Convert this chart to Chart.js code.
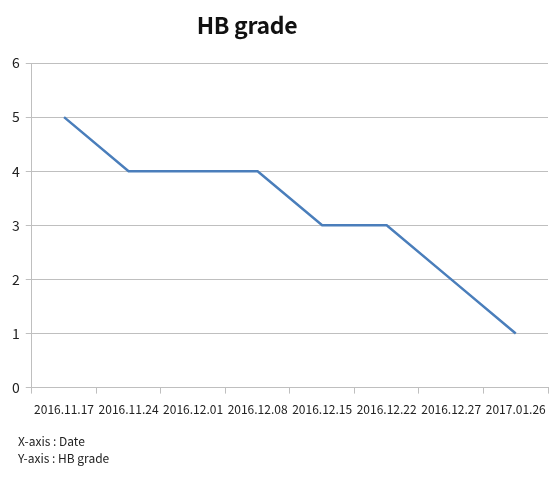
<!DOCTYPE html>
<html>
<head>
<meta charset="utf-8">
<script src="https://cdn.jsdelivr.net/npm/chart.js@4/dist/chart.umd.min.js"></script>
<style>
  body { margin: 0; background: #fff; font-family: "Noto Sans CJK KR", "Noto Sans", sans-serif; }
  #wrap { position: relative; width: 550px; height: 478px; }
  #title { position: absolute; left: 0; width: 494px; top: 7px; text-align: center; font-size: 23px; font-weight: bold; color: #111; letter-spacing: -0.3px; }
  #notes { position: absolute; left: 18px; top: 432px; font-size: 12px; line-height: 17px; color: #222; }
</style>
</head>
<body>
<div id="wrap">
  <div id="title">HB grade</div>
  <canvas id="myChart-Line" width="550" height="478"></canvas>
  <div id="notes">X-axis : Date<br>Y-axis : HB grade</div>
</div>
<script>
const dates = ['2016.11.17', '2016.11.24', '2016.12.01', '2016.12.08', '2016.12.15', '2016.12.22', '2016.12.27', '2017.01.26'];
const hbGrade = [5, 4, 4, 4, 3, 3, 2, 1];
const yTicks = [0, 1, 2, 3, 4, 5, 6];

const ctx = document.getElementById('myChart-Line');
new Chart(ctx, {
  type: 'line',
  data: {
    labels: dates,
    datasets: [
      {
        label: 'HB grade',
        data: hbGrade,
        fill: false,
        borderColor: '#4a7ebb',
        borderWidth: 2.5,
        pointRadius: 0,
        tension: 0,
      },
    ],
  },
  options: {
    responsive: false,
    animation: false,
    layout: { padding: { top: 63, left: 6, right: 2, bottom: 52 } },
    plugins: { legend: { display: false }, tooltip: { enabled: false } },
    scales: {
      x: {
        offset: true,
        afterFit: axis => { axis.paddingRight = 0; },
        grid: { offset: true, drawOnChartArea: false, drawTicks: true, tickLength: 6, color: '#bfbfbf' },
        border: { color: '#bfbfbf' },
        ticks: {
          color: '#222',
          font: { family: 'Noto Sans CJK KR', size: 12 },
          maxRotation: 0,
          autoSkip: false,
          padding: 9,
        },
      },
      y: {
        min: yTicks[0],
        max: yTicks[yTicks.length - 1],
        afterBuildTicks: axis => { axis.ticks = yTicks.map(v => ({ value: v })); },
        grid: { color: '#bfbfbf', tickLength: 6 },
        border: { color: '#bfbfbf' },
        ticks: {
          color: '#222',
          font: { family: 'Noto Sans CJK KR', size: 14 },
          padding: 6,
        },
      },
    },
  },
});
</script>
</body>
</html>
